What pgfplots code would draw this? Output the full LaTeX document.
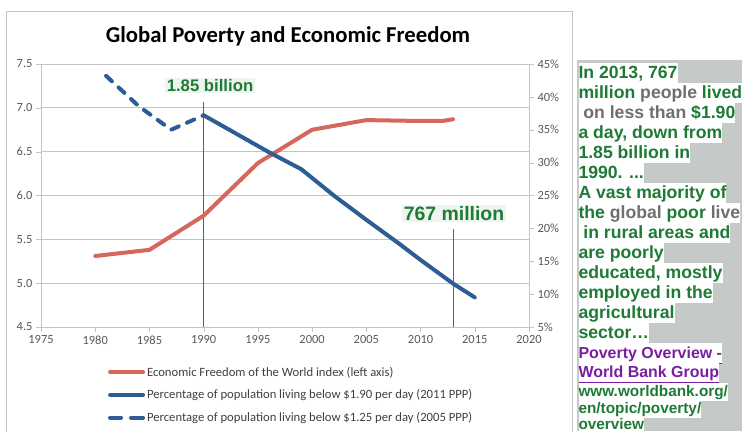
\documentclass[border=0pt]{standalone}
\usepackage{fontspec}
\setmainfont{Carlito}
\newfontfamily\arial{Liberation Sans}
\usepackage{pgfplots}
\pgfplotsset{compat=1.18}

\definecolor{efred}{HTML}{D5675C}
\definecolor{povblue}{HTML}{2E5D96}
\definecolor{gridgray}{HTML}{C4C4C4}
\definecolor{ticktext}{HTML}{595959}
\definecolor{legtext}{HTML}{404040}
\definecolor{markline}{HTML}{4D6B66}
\definecolor{wbgreen}{HTML}{1E7B36}
\definecolor{wbgray}{HTML}{6F6F6F}
\definecolor{wbpurple}{HTML}{7A1EA1}
\definecolor{panelgray}{HTML}{C5CAC9}
\definecolor{labelbg}{HTML}{EEF5EF}

\pgfplotstableread{
year  efw
1980  5.31
1985  5.38
1990  5.77
1995  6.37
2000  6.75
2005  6.86
2010  6.85
2011  6.85
2012  6.85
2013  6.87
}\efwtable

\pgfplotstableread{
year  pct
1990  37.2
1993  34.4
1996  31.6
1999  29.0
2002  25.0
2005  21.3
2008  17.7
2010  15.2
2011  14.0
2012  12.8
2013  11.6
2015  9.5
}\solidtable

\pgfplotstableread{
year  pct
1981  43.2
1984  38.6
1987  35.0
1990  37.2
}\dashtable

\pgfplotsset{
  chartbase/.style={
    scale only axis,
    width=488bp, height=263bp,
    at={(41bp,104bp)}, anchor=south west,
    xmin=1975, xmax=2020,
    tick align=outside,
    major tick length=5bp,
    axis line style={draw=gridgray},
    tick style={draw=gridgray},
    ticklabel style={font=\fontsize{12.5}{14}\selectfont, text=ticktext},
    /pgf/number format/assume math mode=true,
    clip=false,
  },
  solidlegend/.style={legend image code/.code={\draw[##1] (0bp,0bp) -- (33bp,0bp);}},
  dashlegend/.style={legend image code/.code={\draw[##1, solid] (0bp,0bp) -- (11bp,0bp) (21bp,0bp) -- (33bp,0bp);}},
}

% small helper for the text panel lines
\newcommand{\pline}[3]{%
  \node[anchor=base west, fill=white, inner sep=0pt,
        text height=#3, text depth=4.7bp, text=wbgreen,
        font=\arial\bfseries\fontsize{17.7}{20}\selectfont]
        at (578.3bp, {431-#1}) {#2\hspace{5bp}};}

\begin{document}
\begin{tikzpicture}[x=1bp, y=1bp]
\useasboundingbox (0,0) rectangle (742,431);
\fill[white] (0,0) rectangle (742,431);
\draw[gridgray, line width=0.8bp] (6.5,-5) rectangle (572.5,420);

\node[font=\bfseries\fontsize{22.8}{26}\selectfont, text=black] at (288, 395) {Global Poverty and Economic Freedom};

% left axis: economic freedom index
\begin{axis}[
  chartbase,
  axis y line*=left, axis x line*=bottom,
  ymin=4.5, ymax=7.5,
  ytick={4.5,5,5.5,6,6.5,7,7.5},
  xtick={1975,1980,...,2020},
  ymajorgrids,
  grid style={draw=gridgray, line width=0.8bp},
  yticklabel style={/pgf/number format/.cd, fixed, fixed zerofill, precision=1},
  xticklabel style={/pgf/number format/1000 sep={}},
]
\addplot[markline, line width=1bp] coordinates {(1990,4.5) (1990,7.07)};
\addplot[markline, line width=1bp] coordinates {(2013,4.5) (2013,5.62)};
\addplot[efred, line width=4bp, line join=round, line cap=round] table[x=year, y=efw] {\efwtable};
\end{axis}

% right axis: poverty headcount
\begin{axis}[
  chartbase,
  axis y line*=right, hide x axis,
  ymin=5, ymax=45,
  ytick={5,10,...,45},
  yticklabels={5\%,10\%,15\%,20\%,25\%,30\%,35\%,40\%,45\%},
  legend cell align=left,
  legend style={at={(0.137,-0.143)}, anchor=north west, draw=none, fill=none,
    font=\fontsize{12.7}{15}\selectfont, text=legtext, row sep=8bp, inner sep=0pt},
  solidlegend,
]
\addlegendimage{efred, line width=4bp, line cap=round}
\addlegendentry{Economic Freedom of the World index (left axis)}
\addplot[povblue, line width=4bp, line join=round, line cap=round] table[x=year, y=pct] {\solidtable};
\addlegendentry{Percentage of population living below \$1.90 per day (2011 PPP)}
\addplot[povblue, line width=4bp, line join=round, line cap=round, dash pattern=on 8bp off 9bp, dashlegend]
  table[x=year, y=pct] {\dashtable};
\addlegendentry{Percentage of population living below \$1.25 per day (2005 PPP)}
\end{axis}

% callouts
\node[fill=labelbg, inner sep=1.5bp, text=wbgreen, font=\arial\bfseries\fontsize{16.8}{18}\selectfont] at (210, 345.5) {1.85 billion};
\node[fill=labelbg, inner sep=1.5bp, text=wbgreen, font=\arial\bfseries\fontsize{19.5}{21}\selectfont] at (454, 217.3) {767 million};

% text panel
\begin{scope}
\clip (576.5,0) rectangle (742,371);
\fill[panelgray] (576.5,0) rectangle (742,371);
\pline{78.3}{In 2013, 767}{15.3bp}
\pline{98.3}{million \textcolor{wbgray}{people} lived}{15.3bp}
\pline{118.3}{\ \textcolor{wbgray}{on less than} \$1.90}{15.3bp}
\pline{138.3}{a day, down from}{15.3bp}
\pline{158.3}{1.85 billion in}{15.3bp}
\pline{178.3}{1990. ...}{15.3bp}
\pline{198.3}{A vast majority of}{15.3bp}
\pline{218.3}{the \textcolor{wbgray}{global} poor \textcolor{wbgray}{live}}{15.3bp}
\pline{238.3}{\ in rural areas and}{15.3bp}
\pline{258.3}{are poorly}{15.3bp}
\pline{278.3}{educated, mostly}{15.3bp}
\pline{298.3}{employed in the}{15.3bp}
\pline{318.3}{agricultural}{15.3bp}
\pline{338.3}{sector…}{15.3bp}
\node[anchor=base west, fill=white, inner sep=0pt, text height=15.3bp, text depth=4.7bp, text=wbpurple,
      font=\arial\bfseries\fontsize{16}{18}\selectfont] at (578.3, {431-358.3}) {\underline{Poverty Overview -}\hspace{3bp}};
\node[anchor=base west, fill=white, inner sep=0pt, text height=14bp, text depth=4.5bp, text=wbpurple,
      font=\arial\bfseries\fontsize{16}{18}\selectfont] at (578.3, {431-377}) {\underline{World Bank Group}\hspace{3bp}};
\node[anchor=base west, fill=white, inner sep=0pt, text height=13.5bp, text depth=4bp, text=wbgreen,
      font=\arial\bfseries\fontsize{15.4}{17}\selectfont] at (578.3, {431-396.5}) {www.worldbank.org/\hspace{3bp}};
\node[anchor=base west, fill=white, inner sep=0pt, text height=13bp, text depth=4bp, text=wbgreen,
      font=\arial\bfseries\fontsize{15.4}{17}\selectfont] at (578.3, {431-413.5}) {en/topic/poverty/\hspace{3bp}};
\node[anchor=base west, fill=white, inner sep=0pt, text height=12bp, text depth=4bp, text=wbgreen,
      font=\arial\bfseries\fontsize{15.4}{17}\selectfont] at (578.3, {431-429.5}) {overview\hspace{3bp}};
\end{scope}
\end{tikzpicture}
\end{document}
